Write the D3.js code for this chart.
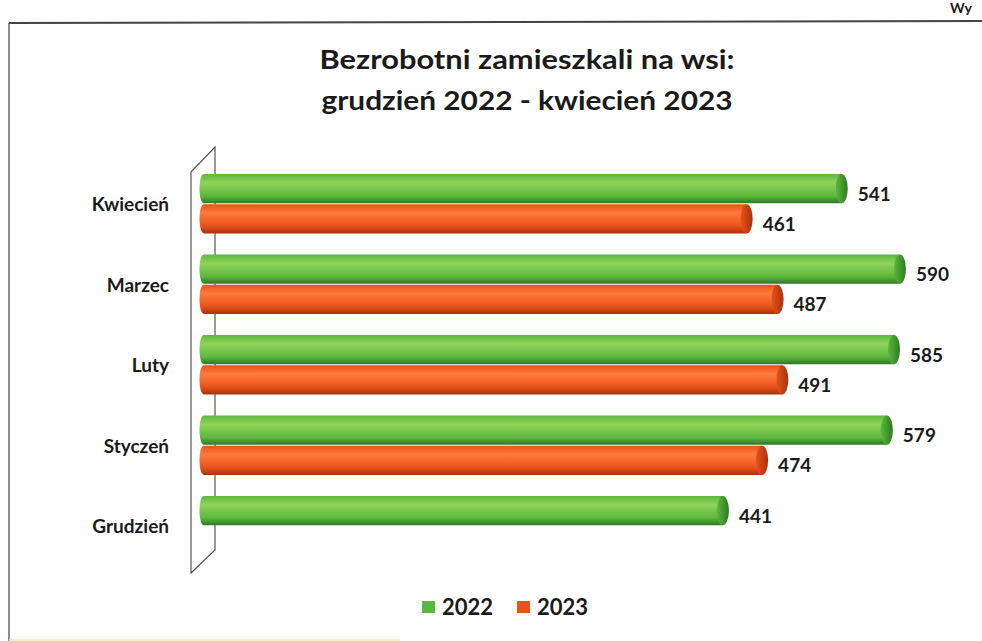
<!DOCTYPE html>
<html>
<head>
<meta charset="utf-8">
<script src="https://cdn.jsdelivr.net/npm/d3@7"></script>
<style>
  body { margin: 0; background: #fff; }
  svg { display: block; }
  text { font-family: Lato, "Open Sans", sans-serif; font-weight: bold; fill: #1a1a1a; }
</style>
</head>
<body>
<svg id="chart" width="982" height="641"></svg>
<script>
// months, top to bottom as in the picture
var months = ["Kwiecień", "Marzec", "Luty", "Styczeń", "Grudzień"];
var seriesNames = ["2022", "2023"];
// values per month (null = no bar)
var values2022 = [541, 590, 585, 579, 441];
var values2023 = [461, 487, 491, 474, null];
var titleLines = ["Bezrobotni zamieszkali na wsi:", "grudzień 2022 - kwiecień 2023"];

var svg = d3.select("#chart");
var W = 982, H = 641;

// colours for each series: light, mid, dark
var pal = {
  "2022": ["#8fd45a", "#5cb83c", "#2f7a22"],
  "2023": ["#ff7a3a", "#e8521c", "#a8320e"]
};

var defs = svg.append("defs");
seriesNames.forEach(function(s){
  var g = defs.append("linearGradient").attr("id", "grad" + s)
     .attr("x1", 0).attr("y1", 0).attr("x2", 0).attr("y2", 1);
  g.append("stop").attr("offset", "0%").attr("stop-color", pal[s][1]);
  g.append("stop").attr("offset", "30%").attr("stop-color", pal[s][0]);
  g.append("stop").attr("offset", "75%").attr("stop-color", pal[s][1]);
  g.append("stop").attr("offset", "100%").attr("stop-color", pal[s][2]);
  var c = defs.append("linearGradient").attr("id", "cap" + s)
     .attr("x1", 0).attr("y1", 0).attr("x2", 1).attr("y2", 0);
  c.append("stop").attr("offset", "0%").attr("stop-color", pal[s][1]);
  c.append("stop").attr("offset", "100%").attr("stop-color", pal[s][2]);
});

// frame of the chart area (scan)
svg.append("line").attr("x1", 9).attr("y1", 23).attr("x2", W).attr("y2", 21)
   .attr("stroke", "#444").attr("stroke-width", 2);
svg.append("line").attr("x1", 9).attr("y1", 23).attr("x2", 9).attr("y2", H)
   .attr("stroke", "#666").attr("stroke-width", 1.5);
svg.append("line").attr("x1", 9).attr("y1", H - 1).attr("x2", 400).attr("y2", H - 1)
   .attr("stroke", "#f3e7b0").attr("stroke-width", 1.5);
svg.append("text").attr("x", 950).attr("y", 13).attr("font-size", 14).text("Wy");

// title, stretched to the width it has in the scan
var titleW = [415, 411];
svg.selectAll("text.title").data(titleLines).enter().append("text")
   .attr("class", "title")
   .attr("x", 527).attr("y", function(d, i){ return 69 + i * 41; })
   .attr("text-anchor", "middle").attr("font-size", 27)
   .attr("textLength", function(d, i){ return titleW[i]; })
   .attr("lengthAdjust", "spacingAndGlyphs")
   .text(function(d){ return d; });

// scales
var x = d3.scaleLinear().domain([0, 600]).range([199, 199 + 600 * 1.188]);
var y0 = d3.scaleBand().domain(months).range([164, 566.5])
   .paddingInner(0.25).paddingOuter(0.125);
var y1 = d3.scaleBand().domain(seriesNames).range([0, y0.bandwidth()]);

// back wall of the 3D chart
var wall = d3.path();
wall.moveTo(191, 172); wall.lineTo(215, 147); wall.lineTo(215, 550);
wall.lineTo(191, 573); wall.closePath();
svg.append("path").attr("d", wall.toString()).attr("fill", "none")
   .attr("stroke", "#555").attr("stroke-width", 1.2);

// category labels
svg.append("g").selectAll("text").data(months).enter().append("text")
   .attr("x", 169)
   .attr("y", function(d){ return y0(d) + y0.bandwidth() / 2 + 7; })
   .attr("text-anchor", "end").attr("font-size", 19)
   .text(function(d){ return d; });

// bars
var rows = [];
months.forEach(function(m, i){
  rows.push({month: m, s: "2022", v: values2022[i]});
  if (values2023[i] != null) rows.push({month: m, s: "2023", v: values2023[i]});
});

var bh = y1.bandwidth() - 1;
var bar = svg.append("g").selectAll("g").data(rows).enter().append("g")
   .attr("transform", function(d){ return "translate(0," + (y0(d.month) + y1(d.s)) + ")"; });

bar.append("path")
   .attr("d", function(d){
     var p = d3.path(), r = 5, xe = x(d.v), xs = x(0);
     p.moveTo(xs + r, 0);
     p.lineTo(xe, 0);
     p.lineTo(xe, bh);
     p.lineTo(xs + r, bh);
     p.bezierCurveTo(xs - 1, bh, xs - 1, 0, xs + r, 0);
     p.closePath();
     return p.toString();
   })
   .attr("fill", function(d){ return "url(#grad" + d.s + ")"; });

bar.append("ellipse")
   .attr("cx", function(d){ return x(d.v); })
   .attr("cy", bh / 2).attr("rx", 6).attr("ry", bh / 2)
   .attr("fill", function(d){ return "url(#cap" + d.s + ")"; });

// value labels
bar.append("text")
   .attr("x", function(d){ return x(d.v) + 16; })
   .attr("y", bh / 2 + 12)
   .attr("font-size", 19)
   .text(function(d){ return d.v; });

// legend
var leg = svg.append("g").selectAll("g").data(seriesNames).enter().append("g")
   .attr("transform", function(d, i){ return "translate(" + (422 + i * 95) + ",601)"; });
leg.append("rect").attr("width", 13).attr("height", 12)
   .attr("fill", function(d){ return pal[d][1]; });
leg.append("text").attr("x", 20).attr("y", 14).attr("font-size", 22)
   .text(function(d){ return d; });
</script>
</body>
</html>
